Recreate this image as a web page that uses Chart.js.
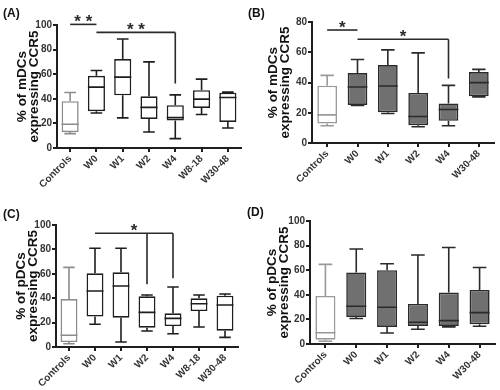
<!DOCTYPE html>
<html>
<head>
<meta charset="utf-8">
<script src="https://cdn.jsdelivr.net/npm/chart.js@4.4.1/dist/chart.umd.min.js"></script>
<style>
  body { margin: 0; background: #fff; }
  #wrap { position: relative; width: 500px; height: 390px; overflow: hidden; }
  canvas { position: absolute; }
</style>
</head>
<body>
<div id="wrap">
  <canvas id="chartA" width="250" height="195" style="left:0;top:0"></canvas>
  <canvas id="chartB" width="255" height="195" style="left:245px;top:0"></canvas>
  <canvas id="chartC" width="250" height="195" style="left:0;top:195px"></canvas>
  <canvas id="chartD" width="255" height="195" style="left:245px;top:195px"></canvas>
</div>
<script>
const FONT = 'Arial, "Liberation Sans", Helvetica, sans-serif';

// categories
const visitsAll = ['Controls', 'W0', 'W1', 'W2', 'W4', 'W8-18', 'W30-48'];
const visitsShort = ['Controls', 'W0', 'W1', 'W2', 'W4', 'W30-48'];

// (A) mDCs, all visits
const aMin = [11.7, 28.5, 24.5, 13.0, 7.6, 27.2, 16.3];
const aQ1  = [13.0, 29.9, 42.9, 23.6, 22.3, 32.6, 21.2];
const aMed = [19.3, 49.5, 57.6, 33.0, 24.7, 39.7, 41.0];
const aQ3  = [38.0, 58.7, 72.3, 42.0, 34.8, 47.0, 45.0];
const aMax = [45.1, 63.0, 88.6, 70.0, 43.2, 56.0, 45.4];

// (B) mDCs, second group
const bMin = [11.4, 24.8, 19.5, 10.7, 11.4, 30.5];
const bQ1  = [12.9, 25.2, 20.4, 11.8, 14.7, 30.9];
const bMed = [18.6, 37.0, 37.7, 17.5, 22.1, 39.9];
const bQ3  = [37.9, 46.2, 51.5, 33.1, 26.1, 46.9];
const bMax = [44.7, 55.2, 61.6, 59.6, 38.1, 48.7];

// (C) pDCs, all visits
const cMin = [2.7, 18.6, 4.1, 13.1, 10.9, 16.4, 7.9];
const cQ1  = [4.1, 24.9, 24.0, 15.8, 17.2, 29.5, 13.4];
const cMed = [9.6, 45.9, 50.0, 28.4, 23.5, 35.5, 34.4];
const cQ3  = [39.3, 60.4, 61.2, 41.5, 27.6, 39.9, 42.0];
const cMax = [65.3, 80.9, 80.9, 42.6, 49.2, 42.6, 43.4];

// (D) pDCs, second group
const dMin = [2.2, 20.7, 9.0, 12.0, 13.9, 14.4];
const dQ1  = [3.5, 22.0, 13.9, 14.7, 14.7, 16.0];
const dMed = [9.2, 30.7, 29.9, 17.7, 19.0, 25.5];
const dQ3  = [39.1, 58.2, 60.0, 32.6, 41.8, 44.0];
const dMax = [64.7, 77.2, 65.2, 72.3, 78.5, 62.2];

// y ticks
const ticks100 = [0, 20, 40, 60, 80, 100];
const ticks80 = [0, 20, 40, 60, 80];

// significance brackets: [fromIndex, toIndex, yValue, label, drops [[index, downToValue]]]
const sigA = [[0, 1, 100.5, '**', []], [1, 4, 94, '**', [[4, 52.4]]]];
const sigB = [[0, 1, 74.7, '*', []], [1, 4, 68.6, '*', [[4, 42.7]]]];
const sigC = [[1, 4, 93.2, '*', [[3, 51.4], [4, 56.3]]]];
const sigD = [];

// whiskers, caps and medians drawn on top of the floating bars (Q1..Q3)
const boxWhiskers = {
    id: 'boxWhiskers',
    afterDatasetsDraw(chart, args, opts) {
        const { ctx, scales: { x, y } } = chart;
        const meta = chart.getDatasetMeta(0);
        ctx.save();
        ctx.lineWidth = 1.6;
        ctx.lineCap = 'butt';
        meta.data.forEach((bar, i) => {
            const cx = x.getPixelForValue(i);
            const half = bar.width / 2;
            const cap = half * 0.68;
            const col = i === 0 ? opts.ctrlLine : opts.line;
            const yMin = y.getPixelForValue(opts.mins[i]);
            const yQ1 = y.getPixelForValue(opts.q1s[i]);
            const yMed = y.getPixelForValue(opts.meds[i]);
            const yQ3 = y.getPixelForValue(opts.q3s[i]);
            const yMax = y.getPixelForValue(opts.maxs[i]);
            ctx.strokeStyle = col;
            ctx.beginPath();
            // upper whisker + cap
            ctx.moveTo(cx, yQ3);
            ctx.lineTo(cx, yMax);
            ctx.moveTo(cx - cap, yMax);
            ctx.lineTo(cx + cap, yMax);
            // lower whisker + cap
            ctx.moveTo(cx, yQ1);
            ctx.lineTo(cx, yMin);
            ctx.moveTo(cx - cap, yMin);
            ctx.lineTo(cx + cap, yMin);
            // median
            ctx.moveTo(cx - half, yMed);
            ctx.lineTo(cx + half, yMed);
            ctx.stroke();
        });
        ctx.restore();
    }
};

// significance brackets and panel letter
const annotations = {
    id: 'annotations',
    afterDraw(chart, args, opts) {
        const { ctx, scales: { x, y } } = chart;
        ctx.save();
        ctx.strokeStyle = '#2a2a2a';
        ctx.fillStyle = '#2a2a2a';
        ctx.lineWidth = 1.6;
        opts.sig.forEach(([from, to, val, text, drops]) => {
            const x1 = x.getPixelForValue(from);
            const x2 = x.getPixelForValue(to);
            const py = y.getPixelForValue(val);
            ctx.beginPath();
            ctx.moveTo(x1, py);
            ctx.lineTo(x2, py);
            drops.forEach(([idx, down]) => {
                const dx = x.getPixelForValue(idx);
                ctx.moveTo(dx, py);
                ctx.lineTo(dx, y.getPixelForValue(down));
            });
            ctx.stroke();
            ctx.font = 'bold 17px ' + FONT;
            ctx.textAlign = 'center';
            ctx.textBaseline = 'alphabetic';
            ctx.fillText(text.split('').join(' '), (x1 + x2) / 2, py + 2.5);
        });
        ctx.fillStyle = '#111';
        ctx.font = 'bold 12px ' + FONT;
        ctx.textAlign = 'left';
        ctx.textBaseline = 'middle';
        ctx.fillText(opts.letter, opts.letterX, opts.letterY);
        ctx.restore();
    }
};

function makePanel(id, cats, mins, q1s, meds, q3s, maxs, cfg) {
    const canvas = document.getElementById(id);
    const W = canvas.width, H = canvas.height;
    const boxes = q1s.map((q, i) => [q, q3s[i]]);
    const fills = cats.map((c, i) => i === 0 ? '#ffffff' : cfg.fill);
    const borders = cats.map((c, i) => i === 0 ? cfg.ctrlLine : cfg.line);

    return new Chart(canvas, {
        type: 'bar',
        data: {
            labels: cats,
            datasets: [{
                data: boxes,
                backgroundColor: fills,
                borderColor: borders,
                borderWidth: 1.6,
                borderSkipped: false,
                barPercentage: 0.65,
                categoryPercentage: 1.0
            }]
        },
        options: {
            responsive: false,
            animation: false,
            layout: { padding: { left: 0, top: cfg.top, right: W - cfg.right, bottom: 0 } },
            scales: {
                x: {
                    offset: true,
                    afterFit: s => { s.height = H - cfg.bottom; },
                    border: { display: true, color: '#1e1e1e', width: 2 },
                    grid: { display: true, offset: false, drawOnChartArea: false, tickLength: 4, color: '#1e1e1e', lineWidth: 2 },
                    ticks: {
                        autoSkip: false, minRotation: 45, maxRotation: 45, padding: 1,
                        color: '#333', font: { family: FONT, size: 10, weight: 'bold' }
                    }
                },
                y: {
                    min: 0,
                    max: cfg.yTicks[cfg.yTicks.length - 1],
                    afterFit: s => { s.width = cfg.left; },
                    afterBuildTicks: s => { s.ticks = cfg.yTicks.map(v => ({ value: v })); },
                    border: { display: true, color: '#1e1e1e', width: 2 },
                    grid: { display: true, drawOnChartArea: false, tickLength: 4, color: '#1e1e1e', lineWidth: 2 },
                    ticks: { padding: 1, color: '#333', font: { family: FONT, size: 10, weight: 'bold' } },
                    title: {
                        display: true,
                        text: cfg.title,
                        color: '#111',
                        padding: { top: cfg.titlePad, bottom: 0 },
                        font: { family: FONT, size: 13.5, weight: 'bold', lineHeight: 0.92 }
                    }
                }
            },
            plugins: {
                legend: { display: false },
                tooltip: { enabled: false },
                boxWhiskers: { mins, q1s, meds, q3s, maxs, line: cfg.line, ctrlLine: cfg.ctrlLine },
                annotations: { sig: cfg.sig, letter: cfg.letter, letterX: cfg.letterX, letterY: cfg.letterY }
            }
        },
        plugins: [boxWhiskers, annotations]
    });
}

makePanel('chartA', visitsAll, aMin, aQ1, aMed, aQ3, aMax, {
    left: 57, right: 241, top: 25, bottom: 148, yTicks: ticks100,
    title: ['% of mDCs', 'expressing CCR5'], titlePad: 16,
    fill: '#ffffff', line: '#1e1e1e', ctrlLine: '#8c8c8c',
    sig: sigA, letter: '(A)', letterX: 3, letterY: 14
});

makePanel('chartB', visitsShort, bMin, bQ1, bMed, bQ3, bMax, {
    left: 67, right: 249, top: 22, bottom: 143, yTicks: ticks80,
    title: ['% of mDCs', 'expressing CCR5'], titlePad: 22,
    fill: '#707070', line: '#2a2a2a', ctrlLine: '#9a9a9a',
    sig: sigB, letter: '(B)', letterX: 3, letterY: 14
});

makePanel('chartC', visitsAll, cMin, cQ1, cMed, cQ3, cMax, {
    left: 56, right: 238, top: 30, bottom: 152, yTicks: ticks100,
    title: ['% of pDCs', 'expressing CCR5'], titlePad: 15,
    fill: '#ffffff', line: '#1e1e1e', ctrlLine: '#8c8c8c',
    sig: sigC, letter: '(C)', letterX: 3, letterY: 20
});

makePanel('chartD', visitsShort, dMin, dQ1, dMed, dQ3, dMax, {
    left: 65, right: 250, top: 26, bottom: 149, yTicks: ticks100,
    title: ['% of pDCs', 'expressing CCR5'], titlePad: 21,
    fill: '#707070', line: '#2a2a2a', ctrlLine: '#9a9a9a',
    sig: sigD, letter: '(D)', letterX: 2, letterY: 18
});
</script>
</body>
</html>
